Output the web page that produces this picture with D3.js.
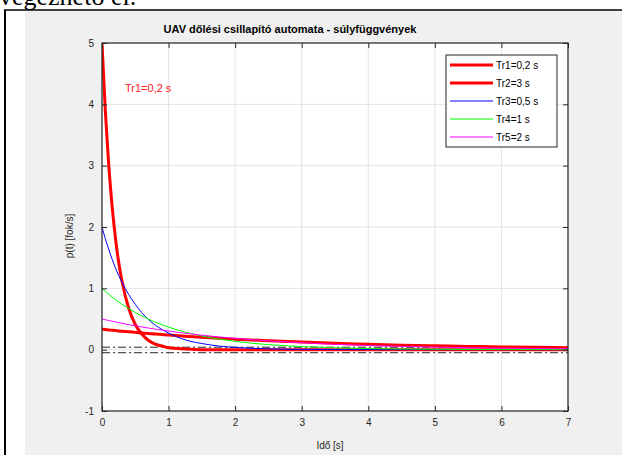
<script src="https://cdn.jsdelivr.net/npm/d3@7"></script>
<style>
  body { margin: 0; background: #fff; }
  text { font-family: "Liberation Sans", Arial, sans-serif; }
</style>
<div id="chart"></div>
<script>
// values
var times = [0, 0.05, 0.1, 0.15, 0.2, 0.25, 0.3, 0.4, 0.5, 0.6, 0.7, 0.8, 0.9, 1,
             1.25, 1.5, 1.75, 2, 2.5, 3, 3.5, 4, 4.5, 5, 5.5, 6, 6.5, 7];
var tr1 = [5.00, 3.89, 3.03, 2.36, 1.84, 1.43, 1.12, 0.68, 0.41, 0.25, 0.15, 0.09, 0.06, 0.03,
           0.01, 0.00, 0, 0, 0, 0, 0, 0, 0, 0, 0, 0, 0, 0];
var tr2 = [0.333, 0.328, 0.322, 0.317, 0.312, 0.306, 0.301, 0.292, 0.282, 0.273, 0.264, 0.255, 0.247, 0.239,
           0.220, 0.202, 0.186, 0.171, 0.145, 0.123, 0.104, 0.088, 0.074, 0.063, 0.053, 0.045, 0.038, 0.032];
var tr3 = [2.00, 1.81, 1.64, 1.48, 1.34, 1.21, 1.10, 0.90, 0.74, 0.60, 0.49, 0.40, 0.33, 0.27,
           0.16, 0.10, 0.06, 0.037, 0.013, 0.005, 0.002, 0.001, 0, 0, 0, 0, 0, 0];
var tr4 = [1.00, 0.951, 0.905, 0.861, 0.819, 0.779, 0.741, 0.670, 0.607, 0.549, 0.497, 0.449, 0.407, 0.368,
           0.287, 0.223, 0.174, 0.135, 0.082, 0.050, 0.030, 0.018, 0.011, 0.007, 0.004, 0.002, 0.002, 0.001];
var tr5 = [0.500, 0.488, 0.476, 0.464, 0.452, 0.441, 0.430, 0.409, 0.389, 0.370, 0.352, 0.335, 0.319, 0.303,
           0.268, 0.236, 0.208, 0.184, 0.143, 0.112, 0.087, 0.068, 0.053, 0.041, 0.032, 0.025, 0.019, 0.015];

var seriesNames = ["Tr1=0,2 s", "Tr2=3 s", "Tr3=0,5 s", "Tr4=1 s", "Tr5=2 s"];
var seriesValues = [tr1, tr2, tr3, tr4, tr5];
var seriesColors = ["#ff0000", "#ff0000", "#0000ff", "#00ff00", "#ff00ff"];
var seriesWidths = [3, 3, 1, 1, 1];

var bandLevels = [0.04, -0.05];   // dash-dot lines
var xTicks = [0, 1, 2, 3, 4, 5, 6, 7];
var yTicks = [-1, 0, 1, 2, 3, 4, 5];

function drawChart() {
    var W = 622, H = 455;
    var svg = d3.select("#chart").append("svg")
        .attr("width", W).attr("height", H);

    // page around the figure
    svg.append("text")
        .attr("x", -1).attr("y", 4.5)
        .style("font-family", "'Liberation Serif', 'Times New Roman', serif")
        .style("font-size", "26px")
        .attr("fill", "#000")
        .text("végezhető el.");

    svg.append("rect").attr("x", 25).attr("y", 11).attr("width", W - 25).attr("height", H - 11)
        .attr("fill", "#f0f0f0");
    svg.append("line").attr("x1", 5).attr("x2", 5).attr("y1", 10).attr("y2", H)
        .attr("stroke", "#000").attr("stroke-width", 2);
    svg.append("line").attr("x1", 4).attr("x2", W).attr("y1", 10).attr("y2", 10)
        .attr("stroke", "#000").attr("stroke-width", 1.5);

    var pl = 102, pr = 568, pt = 43, pb = 411;
    var x = d3.scaleLinear().domain([0, 7]).range([pl, pr]);
    var y = d3.scaleLinear().domain([-1, 5]).range([pb, pt]);

    svg.append("rect").attr("x", pl).attr("y", pt)
        .attr("width", pr - pl).attr("height", pb - pt).attr("fill", "#fff");

    // grid
    var grid = svg.append("g").attr("stroke", "#e3e3e3").attr("stroke-width", 1);
    xTicks.forEach(function(t) {
        grid.append("line").attr("x1", x(t)).attr("x2", x(t)).attr("y1", pt).attr("y2", pb);
    });
    yTicks.forEach(function(t) {
        grid.append("line").attr("x1", pl).attr("x2", pr).attr("y1", y(t)).attr("y2", y(t));
    });

    var defs = svg.append("defs");
    defs.append("clipPath").attr("id", "plot-clip")
      .append("rect").attr("x", pl).attr("y", pt)
        .attr("width", pr - pl).attr("height", pb - pt);

    var plot = svg.append("g").attr("clip-path", "url(#plot-clip)");

    bandLevels.forEach(function(v) {
        plot.append("line")
            .attr("x1", pl).attr("x2", pr).attr("y1", y(v)).attr("y2", y(v))
            .attr("stroke", "#222").attr("stroke-width", 1)
            .attr("stroke-dasharray", "8,3,2,3");
    });

    var line = d3.line()
        .x(function(d, i) { return x(times[i]); })
        .y(function(d) { return y(d); })
        .curve(d3.curveMonotoneX);

    seriesValues.forEach(function(vals, i) {
        plot.append("path")
            .attr("d", line(vals))
            .attr("fill", "none")
            .attr("stroke", seriesColors[i])
            .attr("stroke-width", seriesWidths[i]);
    });

    // axes, MATLAB style: inward ticks on every side
    var axisColor = "#262626";
    function styleAxis(g) {
        g.select(".domain").remove();
        g.selectAll(".tick line").attr("stroke", axisColor);
        g.selectAll(".tick text").attr("fill", axisColor)
            .style("font-family", "'Liberation Sans', Arial, sans-serif").style("font-size", "10px");
    }
    var fmt = function(d) { return String(d); };   // plain hyphen for -1
    svg.append("g").attr("transform", "translate(0," + pb + ")")
        .call(d3.axisBottom(x).tickValues(xTicks).tickSize(-5).tickPadding(8).tickFormat(fmt))
        .call(styleAxis);
    svg.append("g").attr("transform", "translate(0," + pt + ")")
        .call(d3.axisTop(x).tickValues(xTicks).tickSize(-5).tickFormat(""))
        .call(styleAxis);
    svg.append("g").attr("transform", "translate(" + pl + ",0)")
        .call(d3.axisLeft(y).tickValues(yTicks).tickSize(-5).tickPadding(8).tickFormat(fmt))
        .call(styleAxis);
    svg.append("g").attr("transform", "translate(" + pr + ",0)")
        .call(d3.axisRight(y).tickValues(yTicks).tickSize(-5).tickFormat(""))
        .call(styleAxis);

    svg.append("rect").attr("x", pl).attr("y", pt)
        .attr("width", pr - pl).attr("height", pb - pt)
        .attr("fill", "none").attr("stroke", axisColor).attr("stroke-width", 1.2);

    // titles
    svg.append("text").attr("x", 290).attr("y", 33).attr("text-anchor", "middle")
        .style("font-size", "11px").style("font-weight", "bold").attr("fill", "#000")
        .text("UAV dőlési csillapító automata - súlyfüggvények");
    svg.append("text").attr("x", 330).attr("y", 449).attr("text-anchor", "middle")
        .style("font-size", "10px").attr("fill", axisColor)
        .text("Idő [s]");
    svg.append("text").attr("transform", "translate(73,236) rotate(-90)")
        .attr("text-anchor", "middle")
        .style("font-size", "10px").attr("fill", axisColor)
        .text("p(t) [fok/s]");

    svg.append("text").attr("x", 125).attr("y", 92)
        .style("font-size", "11px").attr("fill", "#ff2020")
        .text("Tr1=0,2 s");

    // legend
    var lg = svg.append("g");
    lg.append("rect").attr("x", 446).attr("y", 55).attr("width", 111).attr("height", 92)
        .attr("fill", "#fff").attr("stroke", axisColor).attr("stroke-width", 1);
    seriesNames.forEach(function(name, i) {
        var yy = 65 + i * 18;
        lg.append("line").attr("x1", 450).attr("x2", 493).attr("y1", yy).attr("y2", yy)
            .attr("stroke", seriesColors[i]).attr("stroke-width", seriesWidths[i]);
        lg.append("text").attr("x", 496).attr("y", yy + 3.5)
            .style("font-size", "10px").attr("fill", "#000")
            .text(name);
    });
}
drawChart();
</script>
